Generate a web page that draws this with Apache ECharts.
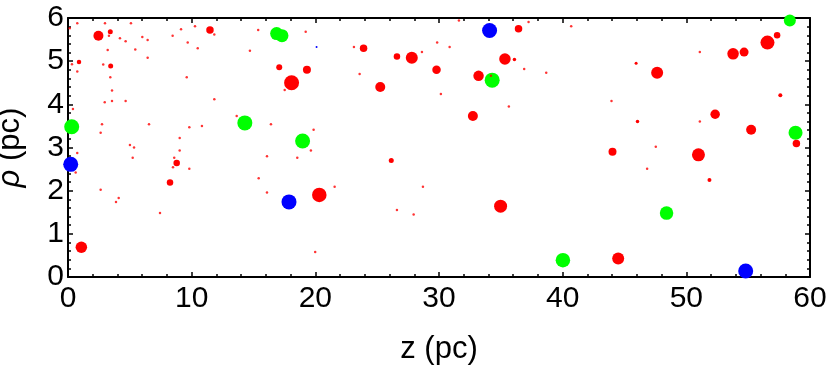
<!DOCTYPE html>
<html>
<head>
<meta charset="utf-8">
<script src="https://cdn.jsdelivr.net/npm/echarts@6/dist/echarts.min.js"></script>
<style>
  html, body { margin: 0; padding: 0; background: #fff; }
  #main { width: 830px; height: 367px; }
</style>
</head>
<body>
<div id="main"></div>
<script>
// [z (pc), rho (pc), relative size]
var redPoints = [
  [2.46, 5.59, 10], [3.42, 5.68, 5], [11.48, 5.72, 7.5], [0.89, 4.98, 4.5], [3.45, 4.89, 5],
  [8.79, 2.64, 6.5], [8.25, 2.19, 6.5], [1.08, 0.69, 11.5], [23.9, 5.30, 7.5], [17.08, 4.86, 6],
  [19.32, 4.80, 8], [18.08, 4.50, 15], [26.6, 5.11, 6.5], [27.8, 5.08, 12], [29.8, 4.80, 8.5],
  [25.25, 4.40, 10], [36.43, 5.75, 7.5], [35.33, 5.05, 11.5], [36.1, 5.04, 3.5], [33.2, 4.66, 10.5],
  [32.74, 3.73, 10], [46.05, 3.60, 3.5], [45.94, 4.95, 3], [57.34, 5.60, 6.5], [56.56, 5.43, 14],
  [53.78, 5.17, 11.5], [54.67, 5.21, 9], [47.64, 4.73, 12], [57.6, 4.21, 4], [52.33, 3.77, 9.5],
  [55.24, 3.41, 10], [58.9, 3.09, 7.5], [50.98, 2.83, 13], [51.87, 2.25, 4], [34.98, 1.64, 13],
  [44.03, 2.90, 8], [44.49, 0.43, 12], [20.32, 1.90, 14.5], [26.14, 2.70, 5]
];
var redSmall = [
  [0.75, 5.88], [2.99, 5.88], [5.09, 5.88], [0.14, 5.76], [10.27, 5.81], [9.14, 5.74], [11.83, 5.62],
  [15.38, 5.72], [3.31, 5.59], [4.20, 5.53], [4.66, 5.46], [6.01, 5.56], [6.44, 5.49], [8.46, 5.59],
  [9.68, 5.43], [10.49, 5.30], [3.21, 5.26], [5.44, 5.27], [14.71, 5.24], [6.44, 5.08], [0.32, 4.93],
  [2.85, 4.92], [0.75, 4.76], [3.42, 4.63], [9.60, 4.63], [3.56, 4.32], [3.56, 4.08], [2.97, 4.05],
  [4.66, 4.08], [11.83, 4.12], [0.40, 3.89], [13.64, 3.73], [2.75, 3.54], [6.55, 3.54], [9.81, 3.47],
  [10.83, 3.50], [2.64, 3.34], [9.03, 3.22], [5.01, 3.06], [5.34, 3.00], [0.75, 2.87], [9.03, 2.93],
  [5.23, 2.76], [8.59, 2.76], [8.49, 2.54], [9.81, 2.51], [0.62, 2.42], [15.42, 2.29], [2.64, 2.02],
  [4.10, 1.83], [3.88, 1.74], [7.44, 1.48], [19.22, 5.68], [23.12, 5.33], [29.85, 5.43], [28.62, 5.21],
  [30.86, 5.33], [23.58, 4.70], [17.52, 4.33], [30.15, 4.24], [16.41, 3.54], [19.86, 3.41], [16.09, 2.80],
  [18.54, 2.76], [19.64, 2.93], [16.09, 1.96], [21.56, 2.09], [28.70, 2.09], [26.60, 1.55], [27.95, 1.45],
  [19.99, 0.58], [31.61, 5.94], [37.24, 5.91], [40.69, 5.81], [36.89, 4.82], [38.67, 4.73], [34.20, 4.66],
  [35.65, 3.95], [43.95, 4.08], [51.09, 5.21], [51.09, 3.60], [47.53, 3.02], [46.83, 2.51]
];
var greenPoints = [
  [16.87, 5.64, 13], [17.3, 5.59, 13], [18.97, 3.15, 15], [34.3, 4.56, 15], [58.37, 5.94, 12],
  [58.83, 3.34, 14], [48.4, 1.48, 13.5], [40.02, 0.39, 14.5], [0.3, 3.48, 15], [14.3, 3.57, 15]
];
var bluePoints = [
  [34.09, 5.71, 15], [54.8, 0.14, 15], [17.87, 1.74, 15], [0.22, 2.61, 15], [20.1, 5.33, 2]
];
var xTicks = [0, 10, 20, 30, 40, 50, 60];
var yTicks = [0, 1, 2, 3, 4, 5, 6];

var chart = echarts.init(document.getElementById('main'));
var font = 'Liberation Sans, Arial, sans-serif';

function frameAxis(pos, isX, showLabel) {
  var ax = {
    type: 'value',
    position: pos,
    min: isX ? xTicks[0] : yTicks[0],
    max: isX ? xTicks[xTicks.length - 1] : yTicks[yTicks.length - 1],
    interval: isX ? 10 : 1,
    axisLine: { show: true, onZero: false, lineStyle: { color: '#000', width: 2 } },
    axisTick: { show: true, inside: true, length: 5, lineStyle: { color: '#000', width: 1.5 } },
    minorTick: { show: true, splitNumber: 5, length: 3, lineStyle: { color: '#000', width: 1.5 } },
    splitLine: { show: false },
    axisLabel: {
      show: showLabel, color: '#000', fontFamily: font, fontSize: 30,
      margin: isX ? 7 : 4,
      padding: isX ? 0 : [8, 0, 0, 0]
    }
  };
  return ax;
}

var xBottom = frameAxis('bottom', true, true);
xBottom.name = 'z (pc)';
xBottom.nameLocation = 'middle';
xBottom.nameGap = 57;
xBottom.nameTextStyle = { color: '#000', fontFamily: font, fontSize: 31 };

var yLeft = frameAxis('left', false, true);
yLeft.name = '{i|ρ} (pc)';
yLeft.nameLocation = 'middle';
yLeft.nameGap = 42;
yLeft.nameRotate = 90;
yLeft.nameTextStyle = {
  color: '#000', fontFamily: font, fontSize: 31,
  rich: { i: { fontStyle: 'italic', fontFamily: font, fontSize: 31, color: '#000' } }
};

function sz(v) { return v[2] !== undefined ? v[2] : 2.5; }

var option = {
  animation: false,
  backgroundColor: '#fff',
  grid: { left: 68, right: 20, top: 18, bottom: 90, containLabel: false, outerBoundsMode: 'none' },
  xAxis: [xBottom, frameAxis('top', true, false)],
  yAxis: [yLeft, frameAxis('right', false, false)],
  series: [
    { type: 'scatter', data: greenPoints, symbolSize: sz, clip: false,
      itemStyle: { color: '#00ff00', opacity: 1 } },
    { type: 'scatter', data: bluePoints, symbolSize: sz, clip: false,
      itemStyle: { color: '#0000ff', opacity: 1 } },
    { type: 'scatter', data: redPoints, symbolSize: sz, clip: false,
      itemStyle: { color: '#ff0000', opacity: 1 } },
    { type: 'scatter', data: redSmall, symbolSize: sz, clip: false,
      itemStyle: { color: '#ff0000', opacity: 0.8 } }
  ]
};
chart.setOption(option);
</script>
</body>
</html>
